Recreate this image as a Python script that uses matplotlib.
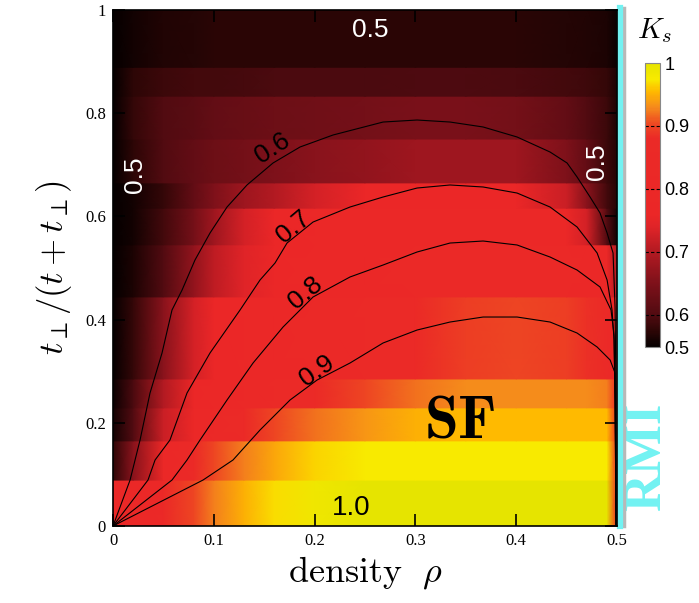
import numpy as np
import matplotlib
matplotlib.use("Agg")
import matplotlib.pyplot as plt
from matplotlib.colors import LinearSegmentedColormap, FuncNorm

plt.rcParams["font.family"] = ["Liberation Serif", "DejaVu Serif"]
plt.rcParams["mathtext.fontset"] = "cm"

# ---- data: superfluid stiffness K_s ----
# density columns and t_perp/(t+t_perp) row edges
densityCols = [0.0, 0.02, 0.05, 0.08, 0.1, 0.13, 0.16, 0.2, 0.25, 0.3, 0.35, 0.4, 0.45, 0.47, 0.49, 0.5]
ratioEdges = [0.0, 0.089, 0.165, 0.229, 0.285, 0.444, 0.545, 0.616, 0.665, 0.75, 0.833, 0.889, 1.0]

# one list per horizontal band, bottom to top
ksBand00 = [0.80, 0.80, 0.83, 0.90, 0.925, 0.95, 0.97, 0.985, 1.0, 1.0, 1.0, 1.0, 1.0, 1.0, 1.0, 0.82]
ksBand01 = [0.55, 0.66, 0.80, 0.88, 0.90, 0.925, 0.945, 0.965, 0.975, 0.975, 0.975, 0.975, 0.975, 0.975, 0.975, 0.80]
ksBand02 = [0.52, 0.60, 0.72, 0.79, 0.85, 0.88, 0.90, 0.92, 0.935, 0.95, 0.955, 0.955, 0.955, 0.955, 0.955, 0.80]
ksBand03 = [0.51, 0.59, 0.70, 0.77, 0.80, 0.83, 0.86, 0.88, 0.90, 0.92, 0.93, 0.93, 0.93, 0.93, 0.925, 0.80]
ksBand04 = [0.50, 0.56, 0.66, 0.73, 0.76, 0.80, 0.82, 0.84, 0.86, 0.88, 0.895, 0.90, 0.895, 0.885, 0.86, 0.78]
ksBand05 = [0.50, 0.53, 0.60, 0.67, 0.71, 0.74, 0.77, 0.80, 0.82, 0.84, 0.85, 0.85, 0.84, 0.82, 0.78, 0.70]
ksBand06 = [0.50, 0.52, 0.58, 0.64, 0.68, 0.73, 0.76, 0.78, 0.79, 0.80, 0.80, 0.80, 0.78, 0.73, 0.60, 0.52]
ksBand07 = [0.50, 0.52, 0.56, 0.62, 0.65, 0.68, 0.70, 0.73, 0.76, 0.77, 0.77, 0.77, 0.72, 0.66, 0.58, 0.54]
ksBand08 = [0.50, 0.55, 0.60, 0.62, 0.63, 0.64, 0.65, 0.66, 0.67, 0.68, 0.68, 0.68, 0.65, 0.62, 0.57, 0.54]
ksBand09 = [0.50, 0.56, 0.60, 0.61, 0.62, 0.625, 0.63, 0.635, 0.64, 0.645, 0.645, 0.64, 0.62, 0.60, 0.57, 0.53]
ksBand10 = [0.50, 0.55, 0.57, 0.58, 0.58, 0.585, 0.59, 0.59, 0.59, 0.595, 0.595, 0.59, 0.58, 0.575, 0.56, 0.53]
ksBand11 = [0.50, 0.52, 0.535, 0.54, 0.545, 0.545, 0.545, 0.545, 0.545, 0.545, 0.545, 0.545, 0.54, 0.535, 0.53, 0.51]

# contour lines (density, ratio)
level06X = [0.0, 0.0169, 0.0268, 0.0367, 0.0486, 0.0585, 0.0685, 0.0813, 0.0962, 0.1131, 0.1329, 0.1587, 0.1855,
            0.2183, 0.2679, 0.3016, 0.3343, 0.3671, 0.4008, 0.4335, 0.4504, 0.4603, 0.4732, 0.4831, 0.4901,
            0.4960, 0.4980, 0.4990, 0.4990]
level06Y = [0.0, 0.0891, 0.1667, 0.2578, 0.3353, 0.4186, 0.4574, 0.5155, 0.5678, 0.6182, 0.6609, 0.7035, 0.7345,
            0.7578, 0.7829, 0.7868, 0.7829, 0.7733, 0.7539, 0.7248, 0.7035, 0.6764, 0.6376, 0.6066, 0.5678,
            0.5291, 0.4244, 0.2442, 0.0]
level07X = [0.0, 0.0347, 0.0417, 0.0565, 0.0734, 0.0962, 0.1260, 0.1458, 0.1607, 0.1726, 0.1984, 0.2351, 0.2679,
            0.3016, 0.3343, 0.3671, 0.4008, 0.4335, 0.4603, 0.4802, 0.4901, 0.4950, 0.4970, 0.4980, 0.4990]
level07Y = [0.0, 0.0891, 0.1279, 0.1667, 0.2578, 0.3353, 0.4186, 0.4767, 0.5097, 0.5484, 0.5891, 0.6182, 0.6376,
            0.6550, 0.6609, 0.6570, 0.6453, 0.6182, 0.5795, 0.5291, 0.4767, 0.4186, 0.3605, 0.2442, 0.0]
level08X = [0.0, 0.0585, 0.0734, 0.0863, 0.1131, 0.1389, 0.1687, 0.1984, 0.2351, 0.2679, 0.3016, 0.3343, 0.3671,
            0.4008, 0.4335, 0.4603, 0.4831, 0.4940, 0.4970, 0.4980, 0.4990]
level08Y = [0.0, 0.0891, 0.1279, 0.1667, 0.2442, 0.3159, 0.3857, 0.4438, 0.4826, 0.5058, 0.5310, 0.5484, 0.5523,
            0.5446, 0.5213, 0.4961, 0.4632, 0.4186, 0.3702, 0.2442, 0.0]
level09X = [0.0, 0.0893, 0.1190, 0.1458, 0.1756, 0.2024, 0.2351, 0.2679, 0.3016, 0.3343, 0.3671, 0.4008, 0.4335,
            0.4603, 0.4802, 0.4931, 0.4980, 0.4990]
level09Y = [0.0, 0.0891, 0.1279, 0.1860, 0.2442, 0.2829, 0.3159, 0.3547, 0.3798, 0.3953, 0.4050, 0.4050, 0.3953,
            0.3740, 0.3469, 0.3217, 0.2965, 0.0]

rmiDensity = 0.5

# ---- colour scale: the 0.5-0.6 part of the bar is squeezed ----
SQUEEZE = 0.512


def ksForward(v):
    v = np.asarray(v, dtype=float)
    return np.where(v < 0.6, 0.6 - (0.6 - v) * SQUEEZE, v)


def ksInverse(u):
    u = np.asarray(u, dtype=float)
    return np.where(u < 0.6, 0.6 - (0.6 - u) / SQUEEZE, u)


norm = FuncNorm((ksForward, ksInverse), vmin=0.5, vmax=1.0)

anchorValues = [0.50, 0.55, 0.60, 0.65, 0.70, 0.74, 0.76, 0.88, 0.905, 0.93, 0.955, 0.975, 1.0]
anchorColors = ["#050000", "#2e0606", "#520b11", "#7e111a", "#b31a22", "#e02428", "#eb2727",
                "#eb2a27", "#ee4a22", "#f58a1c", "#ffb800", "#f8ea00", "#e6e400"]
anchorPos = [float(p) for p in np.asarray(norm(anchorValues))]
anchorPos[0], anchorPos[-1] = 0.0, 1.0
ksCmap = LinearSegmentedColormap.from_list("ks", list(zip(anchorPos, anchorColors)))

# ---- figure ----
fig = plt.figure(figsize=(6.99, 6.03), dpi=100)
ax = fig.add_axes([0.1617, 0.1277, 0.7211, 0.8557])

bands = [ksBand00, ksBand01, ksBand02, ksBand03, ksBand04, ksBand05,
         ksBand06, ksBand07, ksBand08, ksBand09, ksBand10, ksBand11]
# every band gets its own bottom and top vertex row so the bands stay sharp
yVerts = []
cVerts = []
for i, band in enumerate(bands):
    yVerts += [ratioEdges[i], ratioEdges[i + 1]]
    cVerts += [band, band]
X, Y = np.meshgrid(densityCols, yVerts)
mesh = ax.pcolormesh(X, Y, np.array(cVerts), cmap=ksCmap, norm=norm, shading="gouraud", zorder=1)

for lx, ly in [(level06X, level06Y), (level07X, level07Y), (level08X, level08Y), (level09X, level09Y)]:
    ax.plot(lx, ly, color="black", lw=0.8, zorder=3)

# contour labels
labelFont = dict(family=["Liberation Sans", "DejaVu Sans"], fontsize=19, ha="center", va="center", zorder=4)
ax.text(0.158, 0.733, "0.6", rotation=33, **labelFont)
ax.text(0.179, 0.580, "0.7", rotation=40, **labelFont)
ax.text(0.191, 0.452, "0.8", rotation=40, **labelFont)
ax.text(0.202, 0.300, "0.9", rotation=35, **labelFont)

whiteFont = dict(family=["Liberation Sans", "DejaVu Sans"], fontsize=19, ha="center", va="center",
                 color="white", zorder=4)
ax.text(0.255, 0.961, "0.5", **whiteFont)
ax.text(0.022, 0.680, "0.5", rotation=90, **whiteFont)
ax.text(0.480, 0.705, "0.5", rotation=90, **whiteFont)
ax.text(0.236, 0.035, "1.0", family=["Liberation Sans", "DejaVu Sans"], fontsize=20,
        ha="center", va="center", zorder=4)

ax.text(0.344, 0.200, r"$\mathbf{SF}$", fontsize=44, ha="center", va="center", zorder=4)

# RMI boundary
ax.plot([rmiDensity + 0.0065] * 2, [0, 1.003], color="#b8b8b8", lw=2.5, clip_on=False, zorder=5)
ax.plot([rmiDensity + 0.003] * 2, [0, 1.003], color="#72f2f2", lw=4.5, clip_on=False, zorder=6)
ax.text(0.530, 0.134, "RMI", rotation=90, fontsize=38, fontweight="bold", color="#72f2f2",
        ha="center", va="center", clip_on=False)

ax.set_xlim(0, 0.5)
ax.set_ylim(0, 1)
ax.set_xticks([0, 0.1, 0.2, 0.3, 0.4, 0.5])
ax.set_xticklabels(["0", "0.1", "0.2", "0.3", "0.4", "0.5"])
ax.set_yticks([0, 0.2, 0.4, 0.6, 0.8, 1.0])
ax.set_yticklabels(["0", "0.2", "0.4", "0.6", "0.8", "1"])
ax.tick_params(direction="in", top=True, right=True, length=8.5, width=1.2, labelsize=12, pad=5)
for s in ax.spines.values():
    s.set_linewidth(1.2)
    s.set_zorder(7)

ax.set_xlabel(r"$\mathrm{density}\ \ \rho$", fontsize=26, labelpad=4)
ax.set_ylabel(r"$t_\perp/(t+t_\perp)$", fontsize=25, labelpad=8)

# colour bar
cax = fig.add_axes([0.9227, 0.4245, 0.0215, 0.4710])
cbar = fig.colorbar(mesh, cax=cax, ticks=[0.5, 0.6, 0.7, 0.8, 0.9, 1.0])
cbar.ax.set_yticklabels(["0.5", "0.6", "0.7", "0.8", "0.9", "1"])
cbar.ax.tick_params(length=0, pad=3, labelsize=13)
for t in cbar.ax.get_yticklabels():
    t.set_family(["Liberation Sans", "DejaVu Sans"])
for v in [0.6, 0.7, 0.8, 0.9]:
    cbar.ax.axhline(v, color="black", lw=0.8, ls=(0, (3, 2)))
cbar.outline.set_edgecolor("#888888")
cbar.outline.set_linewidth(0.8)
fig.text(0.937, 0.950, r"$K_s$", fontsize=21, ha="center", va="center")

fig.savefig("out.png", dpi=100)
